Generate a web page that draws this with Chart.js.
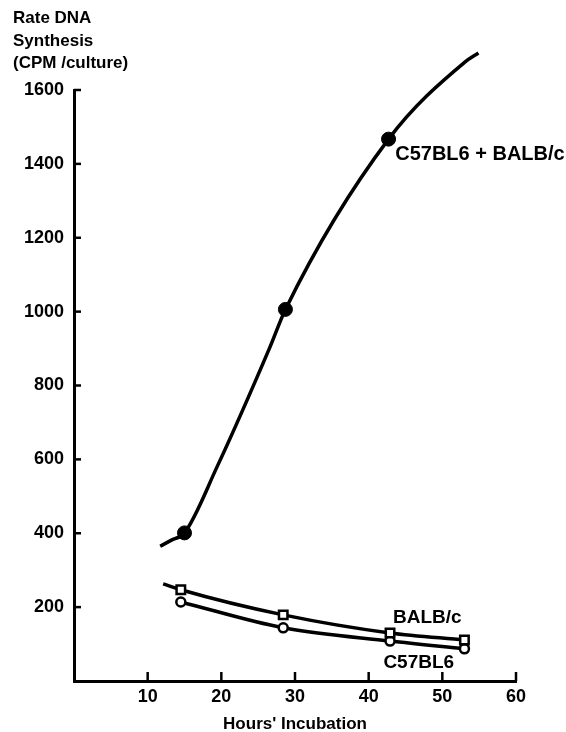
<!DOCTYPE html>
<html>
<head>
<meta charset="utf-8">
<title>Rate DNA Synthesis</title>
<script src="https://cdn.jsdelivr.net/npm/chart.js@4.4.0/dist/chart.umd.min.js"></script>
<style>
  html, body { margin: 0; padding: 0; background: #fff; }
  #chart { display: block; }
</style>
</head>
<body>
<canvas id="chart" width="566" height="732"></canvas>
<script>
var mixHours = [15, 28.7, 42.7, 53.1];
var mixCpm = [401, 1006, 1467, 1676];
var balbHours = [14.5, 28.4, 42.9, 53.0];
var balbCpm = [247, 179, 130, 111];
var c57Hours = [14.5, 28.4, 42.9, 53.0];
var c57Cpm = [214, 144, 108, 87];

// hand drawn curves, traced along the lines of the figure
var mixCurveHours = [11.7, 13.3, 15, 19.4, 26.6, 28.7, 42.7, 53.1, 54.9];
var mixCurveCpm = [365, 382, 401, 579, 904, 1006, 1467, 1676, 1700];
var balbCurveHours = [12.1, 14.5, 28.4, 42.9, 53.0];
var balbCurveCpm = [263, 247, 179, 130, 111];
var c57CurveHours = [14.5, 28.4, 42.9, 53.0];
var c57CurveCpm = [214, 144, 108, 87];

var xTicks = [10, 20, 30, 40, 50, 60];
var yTicks = [200, 400, 600, 800, 1000, 1200, 1400, 1600];
var yTitle = ['Rate DNA', 'Synthesis', '(CPM /culture)'];
var xTitle = "Hours' Incubation";
var curveNames = ['C57BL6 + BALB/c', 'BALB/c', 'C57BL6'];

(function() {
  var FONT = "'Liberation Sans', Arial, sans-serif";

  function pts(xs, ys) {
    return xs.map(function(x, i) { return { x: x, y: ys[i] }; });
  }

  function curve(xs, ys) {
    return {
      data: pts(xs, ys),
      showLine: true,
      borderColor: '#000',
      borderWidth: 3.5,
      pointRadius: 0,
      cubicInterpolationMode: 'monotone',
      clip: false,
      fill: false
    };
  }

  // labels placed in data units: [hours, cpm, font size]
  var labelSpots = [[43.6, 1410, 20], [43.3, 157, 19], [42.0, 35, 19]];

  var decor = {
    id: 'decor',
    afterDraw: function(chart) {
      var ctx = chart.ctx;
      var xs = chart.scales.x, ys = chart.scales.y;
      var area = chart.chartArea;
      ctx.save();
      ctx.strokeStyle = '#000';
      ctx.lineWidth = 2.5;
      // inward tick marks
      xTicks.forEach(function(v) {
        var px = xs.getPixelForValue(v);
        ctx.beginPath();
        ctx.moveTo(px, area.bottom);
        ctx.lineTo(px, area.bottom - 9);
        ctx.stroke();
      });
      yTicks.forEach(function(v) {
        var py = ys.getPixelForValue(v);
        ctx.beginPath();
        ctx.moveTo(area.left, py);
        ctx.lineTo(area.left + 7, py);
        ctx.stroke();
      });

      ctx.fillStyle = '#000';
      ctx.textBaseline = 'alphabetic';
      ctx.textAlign = 'left';
      ctx.font = 'bold 17px ' + FONT;
      yTitle.forEach(function(t, i) {
        ctx.fillText(t, 13, 23 + i * 22.5);
      });

      ctx.textAlign = 'center';
      ctx.fillText(xTitle, (area.left + area.right) / 2, 729);

      ctx.textAlign = 'left';
      curveNames.forEach(function(t, i) {
        var s = labelSpots[i];
        ctx.font = 'bold ' + s[2] + 'px ' + FONT;
        ctx.fillText(t, xs.getPixelForValue(s[0]), ys.getPixelForValue(s[1]));
      });
      ctx.restore();
    }
  };

  var tickFont = { family: FONT, size: 18, weight: 'bold' };
  function plain(v) { return String(v); }

  new Chart(document.getElementById('chart'), {
    type: 'scatter',
    data: {
      datasets: [
        { data: pts(mixHours, mixCpm), pointStyle: 'circle', pointRadius: 7,
          backgroundColor: '#000', borderColor: '#000', borderWidth: 1 },
        { data: pts(balbHours, balbCpm), pointStyle: 'rect', pointRadius: 6,
          backgroundColor: '#fff', borderColor: '#000', borderWidth: 2.5 },
        { data: pts(c57Hours, c57Cpm), pointStyle: 'circle', pointRadius: 4.5,
          backgroundColor: '#fff', borderColor: '#000', borderWidth: 2.5 },
        curve(mixCurveHours, mixCurveCpm),
        curve(balbCurveHours, balbCurveCpm),
        curve(c57CurveHours, c57CurveCpm)
      ]
    },
    options: {
      responsive: false,
      animation: false,
      layout: { padding: { left: 0, top: 90, right: 50, bottom: 0 } },
      plugins: { legend: { display: false }, tooltip: { enabled: false } },
      scales: {
        x: {
          type: 'linear', min: 0, max: 60,
          grid: { display: false, drawTicks: false },
          border: { display: true, width: 3, color: '#000' },
          ticks: { color: '#000', font: tickFont, padding: 5, callback: plain },
          afterBuildTicks: function(s) { s.ticks = xTicks.map(function(v) { return { value: v }; }); },
          afterFit: function(s) { s.height = 51; }
        },
        y: {
          type: 'linear', min: 0, max: 1600,
          grid: { display: false, drawTicks: false },
          border: { display: true, width: 3, color: '#000' },
          ticks: { color: '#000', font: tickFont, padding: 10, callback: plain },
          afterBuildTicks: function(s) { s.ticks = yTicks.map(function(v) { return { value: v }; }); },
          afterFit: function(s) { s.width = 74; }
        }
      }
    },
    plugins: [decor]
  });
})();
</script>
</body>
</html>
